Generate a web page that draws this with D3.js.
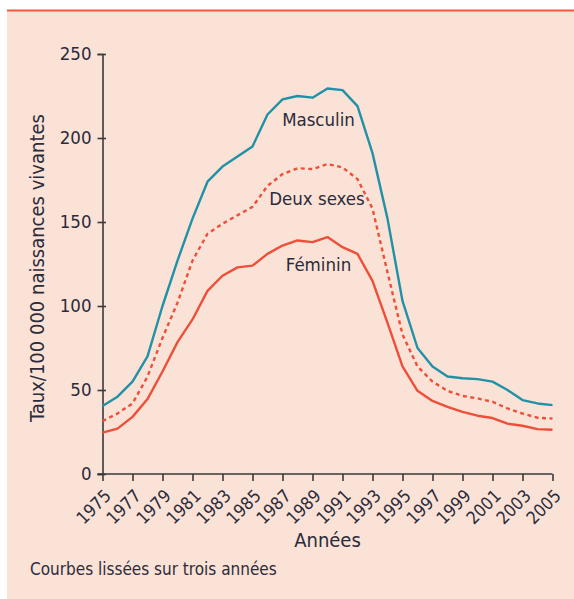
<!DOCTYPE html>
<html>
<head>
<meta charset="utf-8">
<script src="https://cdn.jsdelivr.net/npm/d3@7"></script>
<style>
  body { margin: 0; background: #fff; }
  svg text { font-family: "Liberation Sans Narrow", "DejaVu Sans Condensed", sans-serif; fill: #2b2b3b; }
</style>
</head>
<body>
<svg id="chart"></svg>
<script>
// data (taux / 100 000 naissances vivantes)
const years = d3.range(1975, 2006);
const masculin = [40.5, 46, 55, 70, 100, 127, 152, 174, 183, 189, 195, 214, 223, 225, 224, 229.5,
                  228.5, 219, 191, 152, 103, 75, 64, 58, 57, 56.5, 55, 50, 44, 42, 41];
const deuxSexes = [31.5, 36, 42, 58, 81, 102, 127, 143, 149, 154, 159, 171.5, 178.5, 182, 181.5, 184.5,
                   182.5, 175.5, 158, 120, 83, 64, 55, 49.5, 46.5, 45, 43, 39, 36, 33.5, 33];
const feminin = [24.6, 27, 34, 44.6, 61, 78.5, 92, 109, 118, 123, 124, 131, 136, 139, 138, 141,
                 135, 131, 115, 90, 64, 49.5, 43.5, 40, 37, 34.7, 33.3, 30, 28.7, 26.7, 26.3];
const xTicks = d3.range(1975, 2006, 2);
const yTicks = [0, 50, 100, 150, 200, 250];
const seriesNames = ["Masculin", "Deux sexes", "Féminin"];

const w = 574, h = 599;
const teal = "#2191a6", red = "#ee4f3a";

const svg = d3.select("#chart").attr("width", w).attr("height", h);

// panel
svg.append("rect").attr("x", 7).attr("y", 10).attr("width", w - 7).attr("height", h - 10).attr("fill", "#fbe2d6");
svg.append("line").attr("x1", 7).attr("x2", w).attr("y1", 10.5).attr("y2", 10.5)
   .attr("stroke", "#f15a3f").attr("stroke-width", 2);

const x = d3.scaleLinear().domain([1975, 2005]).range([102.5, 552.5]);
const y = d3.scaleLinear().domain([0, 250]).range([474, 54]);

// y axis
const gy = svg.append("g").attr("transform", `translate(${x(1975)},0)`)
  .call(d3.axisLeft(y).tickValues(yTicks).tickSize(5).tickPadding(6));
gy.selectAll(".tick line").attr("x2", 3.5).attr("x1", -5);
// x axis
const gx = svg.append("g").attr("transform", `translate(0,${y(0)})`)
  .call(d3.axisBottom(x).tickValues(xTicks).tickFormat(d3.format("d")).tickSize(7));

[gx, gy].forEach(g => {
  g.select(".domain").attr("stroke", "#3a3a3a").attr("stroke-width", 1.6);
  g.selectAll(".tick line").attr("stroke", "#3a3a3a").attr("stroke-width", 1.6);
});
gy.selectAll(".tick text").attr("font-size", 18.5).attr("fill", "#2b2b3b");
gx.selectAll(".tick text")
  .attr("font-size", 17.5).attr("fill", "#2b2b3b")
  .attr("text-anchor", "end")
  .attr("y", 0).attr("dy", 0)
  .attr("transform", "translate(9,23) rotate(-45)");
gx.select(".domain").attr("d", `M${x(1975) - 5},0H${x(2005)}`);

// lines
const line = d3.line().x((d, i) => x(years[i])).y(d => y(d));
svg.append("path").datum(masculin).attr("d", line)
   .attr("fill", "none").attr("stroke", teal).attr("stroke-width", 2.4).attr("stroke-linejoin", "round");
svg.append("path").datum(deuxSexes).attr("d", line)
   .attr("fill", "none").attr("stroke", red).attr("stroke-width", 2.4).attr("stroke-dasharray", "4,3.5");
svg.append("path").datum(feminin).attr("d", line)
   .attr("fill", "none").attr("stroke", red).attr("stroke-width", 2.4).attr("stroke-linejoin", "round");

// series labels, anchored in data coordinates
const labelAt = [[1989.4, 207], [1989.3, 160], [1989.4, 121]];
svg.selectAll(".lbl").data(seriesNames).enter().append("text")
  .attr("class", "lbl")
  .attr("x", (d, i) => x(labelAt[i][0]))
  .attr("y", (d, i) => y(labelAt[i][1]))
  .attr("text-anchor", "middle")
  .attr("font-size", 18.5)
  .text(d => d);

// axis titles
svg.append("text").attr("transform", "translate(44,268) rotate(-90)")
  .attr("text-anchor", "middle").attr("font-size", 20)
  .text("Taux/100 000 naissances vivantes");
svg.append("text").attr("x", (x(1975) + x(2005)) / 2).attr("y", 547)
  .attr("text-anchor", "middle").attr("font-size", 20).text("Années");
svg.append("text").attr("x", 30).attr("y", 575).attr("font-size", 17)
  .text("Courbes lissées sur trois années");
</script>
</body>
</html>
